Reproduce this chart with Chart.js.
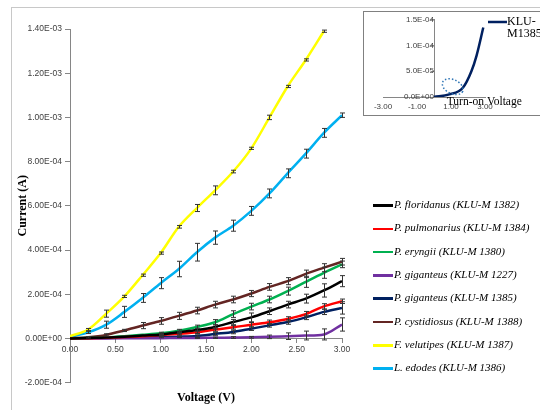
<!DOCTYPE html>
<html>
<head>
<meta charset="utf-8">
<script src="https://cdn.jsdelivr.net/npm/chart.js@4.4.0/dist/chart.umd.min.js"></script>
<style>
  html, body { margin: 0; padding: 0; background: #fff; overflow: hidden; }
  #wrap { position: relative; width: 540px; height: 410px; overflow: hidden; }
  #frame { position: absolute; left: 11px; top: 7px; width: 600px; height: 500px; border: 1px solid #c8c8c8; }
  #main-chart { position: absolute; left: 0; top: 0; }
  #inset-box { position: absolute; left: 363px; top: 11px; width: 180px; height: 103px; border: 1px solid #808080; background: #fff; }
  #legend { position: absolute; left: 373px; top: 0; }
  .leg-row { position: absolute; left: 0; height: 14px; white-space: nowrap; font: italic 11px "Liberation Serif", serif; color: #000; }
  .leg-line { display: inline-block; width: 20px; height: 2.5px; vertical-align: middle; margin-right: 1px; }
</style>
</head>
<body>
<div id="wrap">
  <div id="frame"></div>
  <canvas id="main-chart" width="540" height="410"></canvas>
  <div id="inset-box"><canvas id="inset-chart" width="180" height="103"></canvas></div>
  <div id="legend"></div>
</div>
<script>
Chart.defaults.font.family = '"Liberation Sans", sans-serif';
Chart.defaults.color = '#404040';

// voltage steps (V)
const voltage = [0, 0.2, 0.4, 0.6, 0.8, 1.0, 1.2, 1.4, 1.6, 1.8, 2.0, 2.2, 2.4, 2.6, 2.8, 3.0];

const seriesNames = [
  "P. floridanus (KLU-M 1382)",
  "P. pulmonarius (KLU-M 1384)",
  "P. eryngii (KLU-M 1380)",
  "P. giganteus (KLU-M 1227)",
  "P. giganteus (KLU-M 1385)",
  "P. cystidiosus (KLU-M 1388)",
  "F. velutipes (KLU-M 1387)",
  "L. edodes (KLU-M 1386)"
];
const seriesColors = ["#000000", "#ff0000", "#00b050", "#7030a0", "#002060", "#632523", "#ffff00", "#00b0f0"];

// current (A)
const floridanus  = [0, 2e-6, 4e-6, 8e-6, 1.3e-5, 1.8e-5, 2.8e-5, 3.8e-5, 5.2e-5, 7.4e-5, 9.5e-5, 1.23e-4, 1.53e-4, 1.8e-4, 2.17e-4, 2.59e-4];
const pulmonarius = [0, 1e-6, 3e-6, 6e-6, 1e-5, 1.5e-5, 2.1e-5, 2.8e-5, 4e-5, 5e-5, 6.2e-5, 7.3e-5, 8.8e-5, 1.1e-4, 1.45e-4, 1.68e-4];
const eryngii     = [0, 2e-6, 5e-6, 1e-5, 1.6e-5, 2.3e-5, 3.5e-5, 5.2e-5, 7.3e-5, 1.1e-4, 1.44e-4, 1.76e-4, 2.14e-4, 2.56e-4, 2.97e-4, 3.35e-4];
const giganteus1227 = [0, 0, 0, 1e-6, 1e-6, 1e-6, 2e-6, 2e-6, 3e-6, 4e-6, 5e-6, 7e-6, 1e-5, 1.3e-5, 1.8e-5, 6.3e-5];
const giganteus1385 = [0, 1e-6, 2e-6, 3e-6, 4e-6, 6e-6, 8e-6, 1.1e-5, 2e-5, 2.9e-5, 4.4e-5, 5.9e-5, 7.4e-5, 9.5e-5, 1.2e-4, 1.38e-4];
const cystidiosus = [0, 5e-6, 1.6e-5, 3.6e-5, 5.8e-5, 7.9e-5, 1.02e-4, 1.26e-4, 1.53e-4, 1.76e-4, 2.03e-4, 2.33e-4, 2.59e-4, 2.92e-4, 3.2e-4, 3.47e-4];
const velutipes   = [1e-5, 4e-5, 1.12e-4, 1.9e-4, 2.86e-4, 3.86e-4, 5.05e-4, 5.9e-4, 6.7e-4, 7.55e-4, 8.6e-4, 1.0e-3, 1.14e-3, 1.26e-3, 1.39e-3];
const edodes      = [7e-6, 2.7e-5, 6.2e-5, 1.2e-4, 1.83e-4, 2.5e-4, 3.14e-4, 3.9e-4, 4.56e-4, 5.1e-4, 5.77e-4, 6.56e-4, 7.47e-4, 8.36e-4, 9.3e-4, 1.01e-3];

// error bar half-heights (A)
const floridanusErr  = [0, 0, 0, 0, 0, 5e-6, 5e-6, 8e-6, 1e-5, 1.2e-5, 2e-5, 1.5e-5, 1.5e-5, 2e-5, 3e-5, 2.5e-5];
const pulmonariusErr = [0, 0, 0, 0, 0, 4e-6, 5e-6, 6e-6, 8e-6, 8e-6, 1e-5, 1e-5, 1e-5, 1.2e-5, 1.2e-5, 1e-5];
const eryngiiErr     = [0, 0, 0, 0, 0, 5e-6, 6e-6, 8e-6, 1.2e-5, 1.5e-5, 1.5e-5, 1.5e-5, 1.8e-5, 2.5e-5, 2.5e-5, 1.5e-5];
const gig1227Err     = [0, 0, 0, 0, 0, 0, 0, 2e-6, 3e-6, 4e-6, 4e-6, 8e-6, 1.5e-5, 2e-5, 2.5e-5, 3e-5];
const gig1385Err     = [0, 0, 0, 0, 0, 3e-6, 4e-6, 5e-6, 6e-6, 8e-6, 8e-6, 8e-6, 1e-5, 1e-5, 1.2e-5, 2.8e-5];
const cystidiosusErr = [0, 3e-6, 5e-6, 5e-6, 1.4e-5, 1.5e-5, 1.6e-5, 1.5e-5, 1.5e-5, 1.5e-5, 1.4e-5, 1.5e-5, 1.6e-5, 1.7e-5, 1.8e-5, 1.5e-5];
const velutipesErr   = [0, 5e-6, 1.6e-5, 5e-6, 5e-6, 5e-6, 6e-6, 1.6e-5, 2e-5, 6e-6, 5e-6, 1e-5, 5e-6, 5e-6, 5e-6];
const edodesErr      = [0, 5e-6, 1.6e-5, 2.5e-5, 2e-5, 2.5e-5, 3.5e-5, 4e-5, 3e-5, 2.5e-5, 2e-5, 2e-5, 2e-5, 2e-5, 2e-5, 1e-5];

const seriesValues = [floridanus, pulmonarius, eryngii, giganteus1227, giganteus1385, cystidiosus, velutipes, edodes];
const seriesErrors = [floridanusErr, pulmonariusErr, eryngiiErr, gig1227Err, gig1385Err, cystidiosusErr, velutipesErr, edodesErr];

// inset: KLU-M1385 turn-on curve
const insetVoltage = [0, 0.9, 1.7, 2.2, 2.5, 2.9];
const insetCurrent = [0, 5e-6, 1.8e-5, 5e-5, 8e-5, 1.35e-4];

const sci = (v, digits) => {
  if (Math.abs(v) < 1e-12) return (0).toFixed(digits) + 'E+00';
  const [m, e] = v.toExponential(digits).split('e');
  const n = parseInt(e);
  return m.toUpperCase() + 'E' + (n < 0 ? '-' : '+') + String(Math.abs(n)).padStart(2, '0');
};

const errorBars = {
  id: 'errorBars',
  afterDatasetsDraw(chart) {
    const ctx = chart.ctx;
    const xs = chart.scales.x, ys = chart.scales.y;
    ctx.save();
    ctx.strokeStyle = '#333';
    ctx.lineWidth = 1;
    chart.data.datasets.forEach((ds) => {
      ds.errors.forEach((err, i) => {
        if (!err || ds.data[i] === undefined) return;
        const px = Math.round(xs.getPixelForValue(ds.data[i].x)) + 0.5;
        const top = ys.getPixelForValue(ds.data[i].y + err);
        const bot = ys.getPixelForValue(ds.data[i].y - err);
        ctx.beginPath();
        ctx.moveTo(px, top); ctx.lineTo(px, bot);
        ctx.moveTo(px - 2.5, top); ctx.lineTo(px + 2.5, top);
        ctx.moveTo(px - 2.5, bot); ctx.lineTo(px + 2.5, bot);
        ctx.stroke();
      });
    });
    ctx.restore();
  }
};

const datasets = seriesNames.map((name, k) => ({
  label: name,
  data: seriesValues[k].map((v, i) => ({ x: voltage[i], y: v })),
  errors: seriesErrors[k],
  borderColor: seriesColors[k],
  backgroundColor: seriesColors[k],
  borderWidth: 2.5,
  pointRadius: 0,
  cubicInterpolationMode: 'monotone',
  fill: false
}));

new Chart(document.getElementById('main-chart'), {
  type: 'line',
  data: { datasets: datasets },
  options: {
    responsive: false,
    animation: false,
    layout: { padding: { left: 12, right: 198, top: 29, bottom: 1 } },
    plugins: {
      legend: { display: false },
      tooltip: { enabled: false },
      title: {
        display: true,
        position: 'bottom',
        fullSize: false,
        text: 'Voltage (V)',
        color: '#000',
        font: { family: '"Liberation Serif", serif', size: 12, weight: 'bold' },
        padding: { top: 8, bottom: 4 }
      }
    },
    scales: {
      x: {
        type: 'linear',
        position: { y: 0 },
        min: 0,
        max: 3,
        afterFit: (s) => { s.height = 0; },
        ticks: { stepSize: 0.5, padding: 2, font: { size: 8.5 }, callback: (v) => v.toFixed(2) },
        grid: { drawOnChartArea: false, tickLength: 4, color: '#868686' },
        border: { color: '#868686' }
      },
      y: {
        position: 'left',
        min: -2e-4,
        max: 1.4e-3,
        afterFit: (s) => { s.width = 58; },
        ticks: { stepSize: 2e-4, padding: 3, font: { size: 8.5 }, callback: (v) => sci(v, 2) },
        grid: { drawOnChartArea: false, tickLength: 5, color: '#868686' },
        border: { color: '#868686' },
        title: {
          display: true,
          text: 'Current (A)',
          color: '#000',
          font: { family: '"Liberation Serif", serif', size: 12, weight: 'bold' },
          padding: { top: 4, bottom: 0 }
        }
      }
    }
  },
  plugins: [errorBars]
});

// legend, built from the series names and colours
const legendDiv = document.getElementById('legend');
seriesNames.forEach((name, k) => {
  const row = document.createElement('div');
  row.className = 'leg-row';
  row.style.top = (198 + k * 23.3) + 'px';
  row.innerHTML = `<span class="leg-line" style="background:${seriesColors[k]}"></span>${name}`;
  legendDiv.appendChild(row);
});

// inset notes: dotted ellipse, caption and its one-line legend
const insetNotes = {
  id: 'insetNotes',
  afterDatasetsDraw(chart) {
    const ctx = chart.ctx;
    const xs = chart.scales.x, ys = chart.scales.y;
    ctx.save();
    ctx.strokeStyle = '#2e75b6';
    ctx.lineWidth = 1.5;
    ctx.setLineDash([1.5, 2]);
    ctx.beginPath();
    ctx.ellipse(xs.getPixelForValue(1.1), ys.getPixelForValue(2e-5), 11, 7, 0.45, 0, Math.PI * 2);
    ctx.stroke();
    ctx.setLineDash([]);
    ctx.fillStyle = '#000';
    ctx.font = '11.5px "Liberation Serif", serif';
    ctx.textBaseline = 'middle';
    ctx.fillText('Turn-on Voltage', xs.getPixelForValue(0.75), ys.getPixelForValue(0) + 5);
    ctx.strokeStyle = '#002060';
    ctx.lineWidth = 2.5;
    ctx.beginPath();
    ctx.moveTo(124, 10); ctx.lineTo(143, 10);
    ctx.stroke();
    ctx.font = '12px "Liberation Serif", serif';
    ctx.fillText('KLU-', 143, 10);
    ctx.fillText('M1385', 143, 22);
    ctx.restore();
  }
};

new Chart(document.getElementById('inset-chart'), {
  type: 'line',
  data: {
    datasets: [{
      label: 'KLU-M1385',
      data: insetCurrent.map((v, i) => ({ x: insetVoltage[i], y: v })),
      borderColor: '#002060',
      borderWidth: 2.5,
      pointRadius: 0,
      cubicInterpolationMode: 'monotone'
    }]
  },
  options: {
    responsive: false,
    animation: false,
    layout: { padding: { left: 19, right: 59, top: 5, bottom: 18 } },
    plugins: { legend: { display: false }, tooltip: { enabled: false } },
    scales: {
      x: {
        type: 'linear',
        position: { y: 0 },
        min: -3,
        max: 3,
        afterFit: (s) => { s.height = 0; },
        ticks: { stepSize: 2, padding: 5, font: { size: 8 }, callback: (v) => v.toFixed(2) },
        grid: { drawOnChartArea: false, drawTicks: false },
        border: { color: '#868686' }
      },
      y: {
        position: { x: 0 },
        min: 0,
        max: 1.5e-4,
        afterFit: (s) => { s.width = 0; },
        ticks: { stepSize: 5e-5, padding: 3, font: { size: 8 }, callback: (v) => sci(v, 1) },
        grid: { drawOnChartArea: false, tickLength: 3, color: '#868686' },
        border: { color: '#868686' }
      }
    }
  },
  plugins: [insetNotes]
});
</script>
</body>
</html>
